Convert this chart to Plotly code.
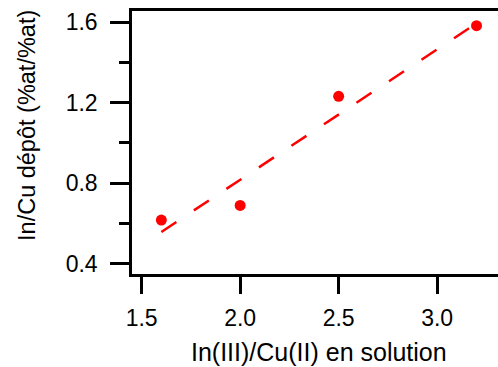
import plotly.graph_objects as go

# Measured ratios
ratio_solution = [1.6, 2.0, 2.5, 3.2]      # In(III)/Cu(II) in solution
ratio_deposit = [0.616, 0.689, 1.231, 1.582]  # In/Cu in deposit (%at/%at)

# Linear fit end points
fit_x = [1.6, 3.2]
fit_y = [0.557, 1.594]

FONT = "Liberation Sans, Arial, sans-serif"
RED = "#FF0000"

fig = go.Figure()
fig.add_trace(go.Scatter(
    x=fit_x, y=fit_y, mode="lines",
    line=dict(color=RED, width=2.5, dash="18px,21px"),
    hoverinfo="skip", showlegend=False,
))
fig.add_trace(go.Scatter(
    x=ratio_solution, y=ratio_deposit, mode="markers",
    marker=dict(color=RED, size=11),
    showlegend=False,
))

fig.update_xaxes(
    range=[1.451, 3.309], tick0=1.5, dtick=0.5, tickformat=".1f",
    showline=True, linewidth=2.5, linecolor="black", mirror=True,
    ticks="outside", ticklen=17, tickwidth=2.5, tickcolor="black",
    showgrid=False, zeroline=False,
    tickfont=dict(family=FONT, size=23, color="black"),
    ticklabelstandoff=5,
)
fig.update_yaxes(
    range=[0.348, 1.655], tick0=0.4, dtick=0.4, tickformat=".1f",
    showline=True, linewidth=2.5, linecolor="black", mirror=False,
    ticks="outside", ticklen=19, tickwidth=2.5, tickcolor="black",
    minor=dict(tick0=0.4, dtick=0.2, ticks="outside", ticklen=10,
               tickwidth=2.5, tickcolor="black", showgrid=False),
    showgrid=False, zeroline=False,
    tickfont=dict(family=FONT, size=23, color="black"),
    ticklabelstandoff=8,
)

fig.add_annotation(
    text="In(III)/Cu(II) en solution", xref="paper", yref="paper",
    x=0.511, y=-0.2966, showarrow=False, xanchor="center", yanchor="middle",
    font=dict(family=FONT, size=25, color="black"),
)
fig.add_annotation(
    text="In/Cu dépôt (%at/%at)", xref="paper", yref="paper",
    x=-0.287, y=0.5665, showarrow=False, xanchor="center", yanchor="middle",
    textangle=-90,
    font=dict(family=FONT, size=23.5, color="black"),
)

fig.update_layout(
    width=498, height=367,
    margin=dict(l=132, r=0, t=11, b=93),
    paper_bgcolor="white", plot_bgcolor="white",
)

fig.write_html("out.html")
